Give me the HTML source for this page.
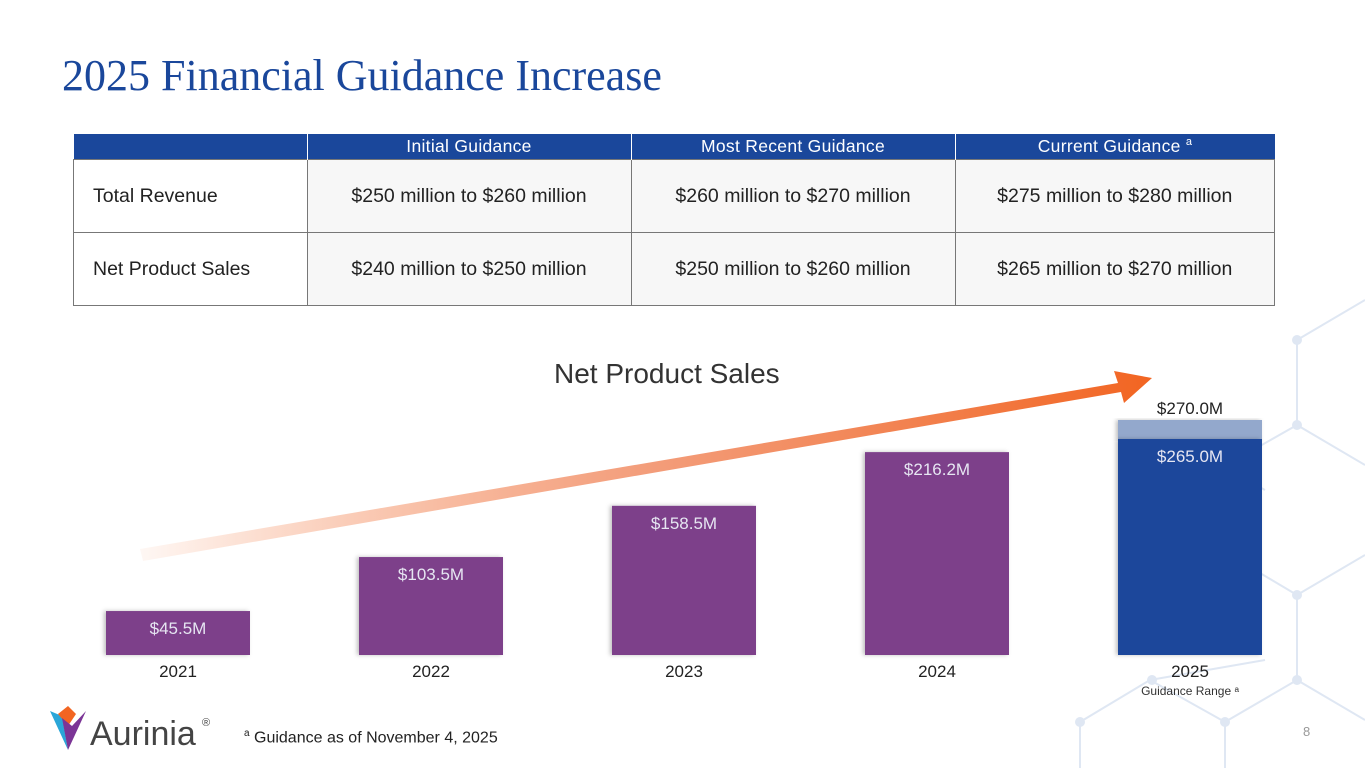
<!DOCTYPE html>
<html><head><meta charset="utf-8"><style>
body{margin:0;width:1365px;height:768px;overflow:hidden;background:#fff;font-family:"Liberation Sans",sans-serif;position:relative}
.t{position:absolute}
table{position:absolute;left:73px;top:134px;border-collapse:collapse;width:1202px}
th{background:#1a479b;color:#fff;font-weight:normal;font-size:17.5px;height:25px;padding:0;border-left:1px solid #fff;letter-spacing:.3px}
td{height:72px;font-size:19.5px;color:#222;text-align:center;background:#f7f7f7;border:1px solid #777;padding:0}
td.l{text-align:left;padding-left:19px;background:#fff}
</style></head><body>
<svg class="t" style="left:0;top:0" width="1365" height="768">
<g stroke="#dfe7f3" stroke-width="2" fill="none">
<path d="M1297 340 L1365 300 M1297 340 L1297 425 L1365 465 M1297 425 L1223 467 L1265 490 M1297 595 L1297 680 L1365 720 M1297 595 L1365 555 M1297 595 L1260 573 M1297 680 L1225 722 L1225 768 M1225 722 L1150 680 L1080 722 L1080 768 M1150 680 L1265 660"/>
</g>
<g fill="#dfe7f3"><circle cx="1297" cy="340" r="5"/><circle cx="1297" cy="425" r="5"/><circle cx="1297" cy="595" r="5"/><circle cx="1297" cy="680" r="5"/><circle cx="1225" cy="722" r="5"/><circle cx="1080" cy="722" r="5"/><circle cx="1152" cy="680" r="5"/></g>
</svg>
<div class="t" style="left:62px;top:50px;font-family:'Liberation Serif',serif;font-size:44px;color:#1a479b">2025 Financial Guidance Increase</div>
<table>
<tr><th style="width:233px;border-left:none"></th><th style="width:323px">Initial Guidance</th><th style="width:323px">Most Recent Guidance</th><th>Current Guidance <sup style="font-size:11px">a</sup></th></tr>
<tr><td class="l">Total Revenue</td><td>$250 million to $260 million</td><td>$260 million to $270 million</td><td>$275 million to $280 million</td></tr>
<tr><td class="l">Net Product Sales</td><td>$240 million to $250 million</td><td>$250 million to $260 million</td><td>$265 million to $270 million</td></tr>
</table>
<div class="t" style="left:554px;top:358px;font-size:28px;color:#333">Net Product Sales</div>
<svg id="ch" class="t" style="left:0;top:0" width="1365" height="768">
<defs><linearGradient id="g" x1="140" y1="0" x2="1150" y2="0" gradientUnits="userSpaceOnUse"><stop offset="0" stop-color="#f26522" stop-opacity="0.05"/><stop offset="0.5" stop-color="#f0855a" stop-opacity="0.8"/><stop offset="1" stop-color="#f26522"/></linearGradient>
<filter id="sh"><feDropShadow dx="-2" dy="0" stdDeviation="2" flood-opacity="0.25"/></filter></defs>
<path d="M140 549 L1118 383 L1114 371 L1152 378 L1124 403 L1121 392 L143 561 Z" fill="url(#g)"/>
</svg>
<div class="t" style="left:244px;top:728px;font-size:16px;color:#222"><sup style="font-size:10px">a</sup> Guidance as of November 4, 2025</div>
<div class="t" style="left:1303px;top:724px;font-size:13px;color:#999">8</div>
<svg class="t" style="left:50px;top:706px" width="170" height="46">
<path d="M0 5 L18 44 L12 10Z" fill="#2aa6d8"/><path d="M8 8 L18 0 L26 8 L18 20Z" fill="#f26522"/><path d="M12 12 L22 20 L36 5 L18 44Z" fill="#7b3596"/>
<text x="40" y="39" font-family="Liberation Sans,sans-serif" font-size="34" fill="#444">Aurinia</text><text x="152" y="20" font-size="11" fill="#444">®</text>
</svg>
<script>
const years=["2021","2022","2023","2024","2025"];
const sales=[45.5,103.5,158.5,216.2,265.0];
const guidanceHigh=[null,null,null,null,270.0];
const labels=["$45.5M","$103.5M","$158.5M","$216.2M","$265.0M"];
const ns="http://www.w3.org/2000/svg",svg=document.getElementById('ch');
const base=655,bw=144;
function x(i){return 106+i*253;}
function h(v,i){return i===4? v*3.8-791 : 1.6+v*0.931;}
function el(t,a){const e=document.createElementNS(ns,t);for(const k in a)e.setAttribute(k,a[k]);svg.appendChild(e);return e;}
years.forEach((yr,i)=>{
 const v=sales[i],hh=h(v,i);
 if(guidanceHigh[i]!=null){const gh=h(guidanceHigh[i],i);
  const r2=el('rect',{x:x(i),y:base-gh,width:bw,height:gh-hh,fill:'#93a8cc',filter:'url(#sh)'});
  
  
  const tt=el('text',{x:x(i)+bw/2,y:base-gh-6,'text-anchor':'middle','font-size':17,fill:'#222','font-family':'Liberation Sans,sans-serif'});tt.textContent='$'+guidanceHigh[i].toFixed(1)+'M';
  
  }
 const r=el('rect',{x:x(i),y:base-hh,width:bw,height:hh,fill:i===4?'#1a479b':'#7d3f8a',filter:'url(#sh)'});
 
 
 const t=el('text',{x:x(i)+bw/2,y:base-hh+23,'text-anchor':'middle','font-size':17,fill:'#e6e6f2','font-family':'Liberation Sans,sans-serif'});t.textContent=labels[i];
 
 
 const a=el('text',{x:x(i)+bw/2,y:base+22,'text-anchor':'middle','font-size':17,fill:'#222','font-family':'Liberation Sans,sans-serif'});a.textContent=yr;
 
 
});
const s=el('text',{x:x(4)+bw/2,y:695,'text-anchor':'middle','font-size':12,fill:'#333','font-family':'Liberation Sans,sans-serif'});s.textContent='Guidance Range ᵃ';


</script>
</body></html>
